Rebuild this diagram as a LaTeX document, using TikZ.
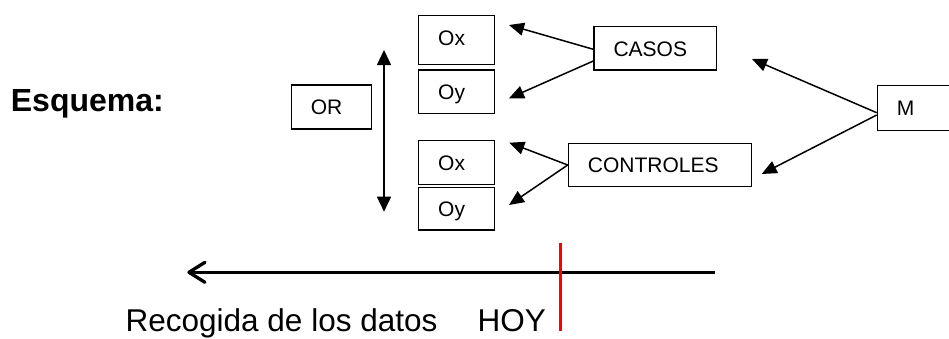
\documentclass[tikz,border=0pt]{standalone}
\usepackage{fontspec}
\setmainfont{Liberation Sans}
\usetikzlibrary{arrows.meta,calc}
\definecolor{hoyred}{RGB}{255,0,0}
\begin{document}
\begin{tikzpicture}[x=1pt,y=-1pt,
  box/.style 2 args={draw, line width=1.4pt, anchor=north west, inner sep=0pt,
    text width=#1pt, text height=29.5pt, text depth={#2pt-29.5pt}, align=left,
    font=\fontsize{21}{21}\selectfont},
  link/.style={line width=1.5pt, -{Triangle[length=15pt,width=13pt]}},
  bigtext/.style={anchor=base west, inner sep=0pt, font=\fontsize{31.5}{31.5}\selectfont}]
\path[use as bounding box, clip] (0,0) rectangle (949,338);

% title
\node[bigtext, font={\fontsize{32}{32}\selectfont\bfseries}] (esq) at (10.7,111.7) {Esquema:};

% boxes
\node[box={80.3}{44}]  (or)   at (290.7,84.3) {\hspace*{19.5pt}OR};
\node[box={76}{49}]    (ox1)  at (418,15)     {\hspace*{19.5pt}Ox};
\node[box={76}{43.4}]  (oy1)  at (418,69.3)   {\hspace*{19.5pt}Oy};
\node[box={76}{44}]    (ox2)  at (418,140)    {\hspace*{19.5pt}Ox};
\node[box={76}{42.6}]  (oy2)  at (418,186.7)  {\hspace*{19.5pt}Oy};
\node[box={122.4}{43.3}] (casos) at (593.3,26) {\hspace*{19.5pt}CASOS};
\node[box={183}{43}]   (ctrl) at (567.7,142.7) {\hspace*{19.5pt}CONTROLES};
\node[box={80}{45}]    (m)    at (876.7,85)   {\hspace*{19.5pt}M};

% vertical double arrow beside OR
\coordinate (vtop) at (384,50);
\coordinate (vbot) at (384,211.7);
\draw[line width=1.5pt, {Triangle[length=15pt,width=14pt]}-{Triangle[length=15pt,width=14pt]}] (vtop) -- (vbot);

% arrows from CASOS and CONTROLES
\coordinate (tox1) at (509,25);
\coordinate (toy1) at (509,98.3);
\coordinate (tox2) at (509.3,142.7);
\coordinate (toy2) at (509,205);
\draw[link] ($(casos.north west)+(0,23.3)$) -- (tox1);
\draw[link] ($(casos.north west)+(0,35)$) -- (toy1);
\draw[link] ($(ctrl.north west)+(0,22.3)$) -- (tox2);
\draw[link] ($(ctrl.north west)+(0,22.3)$) -- (toy2);

% arrows from M
\coordinate (tcasos) at (752,59);
\coordinate (tctrl) at (761.7,174);
\draw[link] ($(m.north west)+(0,27.7)$) -- (tcasos);
\draw[link] ($(m.north west)+(0,30)$) -- (tctrl);

% time line
\coordinate (now) at (715,272.3);
\coordinate (past) at (187.3,272.3);
\draw[line width=3.3pt, -{Straight Barb[length=16pt,width=20pt,round]}] (now) -- (past);
\coordinate (htop) at (560.7,242.7);
\coordinate (hbot) at (560.7,330.7);
\draw[hoyred, line width=3.3pt] (htop) -- (hbot);

\node[bigtext] (rec) at (125.5,331) {Recogida de los datos};
\node[bigtext] (hoy) at (477.5,331) {HOY};
\end{tikzpicture}
\end{document}
